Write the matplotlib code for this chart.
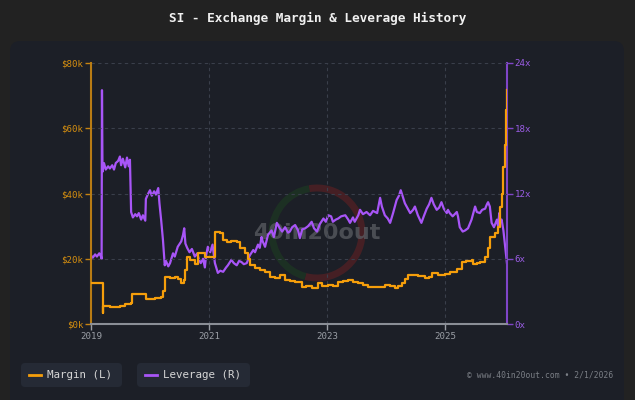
import matplotlib
matplotlib.use("Agg")
import matplotlib.pyplot as plt
from matplotlib.patches import FancyBboxPatch, Arc
from matplotlib.lines import Line2D

# ---------------- data ----------------
margin_dates = [2019.00, 2019.195, 2019.20, 2019.32, 2019.49, 2019.58, 2019.68, 2019.69, 2019.93,
                2020.08, 2020.19, 2020.22, 2020.25, 2020.34, 2020.42, 2020.47, 2020.53, 2020.58,
                2020.59, 2020.63, 2020.68, 2020.76, 2020.81, 2020.93, 2021.10, 2021.19, 2021.24,
                2021.31, 2021.38, 2021.47, 2021.53, 2021.61, 2021.66, 2021.69, 2021.78, 2021.86,
                2021.95, 2022.03, 2022.12, 2022.20, 2022.29, 2022.37, 2022.46, 2022.57, 2022.64,
                2022.74, 2022.85, 2022.92, 2023.02, 2023.10, 2023.19, 2023.27, 2023.36, 2023.44,
                2023.53, 2023.61, 2023.69, 2023.78, 2023.86, 2023.98, 2024.07, 2024.15, 2024.20,
                2024.27, 2024.32, 2024.37, 2024.46, 2024.54, 2024.66, 2024.73, 2024.78, 2024.88,
                2025.00, 2025.08, 2025.20, 2025.28, 2025.36, 2025.45, 2025.47, 2025.54, 2025.59,
                2025.68, 2025.73, 2025.77, 2025.85, 2025.90, 2025.93, 2025.96, 2025.99, 2026.02,
                2026.03, 2026.05]
margin_k = [12.5, 3.5, 5.5, 5.3, 5.5, 6.0, 6.5, 9.1, 7.6,
            7.9, 8.2, 10.2, 14.5, 14.0, 14.5, 13.8, 12.7, 13.5,
            16.5, 20.6, 19.5, 18.4, 21.8, 20.5, 28.3, 27.8, 25.7,
            25.0, 25.5, 25.2, 23.2, 21.7, 20.0, 18.1, 17.1, 16.6,
            16.0, 14.5, 14.2, 15.0, 13.5, 13.2, 13.0, 11.4, 11.6,
            10.9, 12.5, 11.8, 12.0, 11.8, 13.0, 13.3, 13.5, 13.0,
            12.5, 12.0, 11.4, 11.2, 11.4, 12.0, 11.5, 10.9, 11.5,
            12.5, 13.8, 15.0, 15.0, 14.7, 14.0, 14.5, 15.5, 15.0,
            15.2, 16.0, 16.8, 19.1, 19.3, 19.6, 18.4, 18.6, 19.1,
            20.6, 23.2, 26.8, 27.8, 29.8, 36.0, 40.0, 48.0, 55.0,
            65.6, 71.7]

lev_dates = [2019.00, 2019.03, 2019.07, 2019.10, 2019.14, 2019.17, 2019.18, 2019.186, 2019.195, 2019.22,
             2019.25, 2019.29, 2019.32, 2019.36, 2019.39, 2019.42, 2019.46, 2019.49, 2019.51, 2019.54,
             2019.58, 2019.61, 2019.64, 2019.66, 2019.68, 2019.71, 2019.75, 2019.78, 2019.81, 2019.85,
             2019.88, 2019.92, 2019.93, 2019.97, 2020.00, 2020.03, 2020.07, 2020.10, 2020.14, 2020.16,
             2020.19, 2020.22, 2020.25, 2020.27, 2020.31, 2020.34, 2020.39, 2020.42, 2020.47, 2020.53,
             2020.56, 2020.58, 2020.60, 2020.63, 2020.67, 2020.71, 2020.76, 2020.80, 2020.83, 2020.86,
             2020.90, 2020.93, 2020.95, 2020.98, 2021.02, 2021.06, 2021.10, 2021.15, 2021.19, 2021.24,
             2021.29, 2021.32, 2021.38, 2021.42, 2021.47, 2021.51, 2021.55, 2021.59, 2021.64, 2021.69,
             2021.75, 2021.78, 2021.83, 2021.86, 2021.89, 2021.91, 2021.95, 2022.00, 2022.06, 2022.10,
             2022.15, 2022.20, 2022.24, 2022.29, 2022.34, 2022.37, 2022.41, 2022.46, 2022.51, 2022.54,
             2022.58, 2022.63, 2022.68, 2022.74, 2022.78, 2022.83, 2022.88, 2022.94, 2022.98, 2023.02,
             2023.07, 2023.10, 2023.15, 2023.19, 2023.24, 2023.31, 2023.36, 2023.39, 2023.44, 2023.47,
             2023.53, 2023.56, 2023.61, 2023.67, 2023.73, 2023.78, 2023.85, 2023.90, 2023.93, 2023.98,
             2024.03, 2024.07, 2024.12, 2024.18, 2024.22, 2024.25, 2024.29, 2024.32, 2024.37, 2024.41,
             2024.46, 2024.49, 2024.54, 2024.60, 2024.64, 2024.69, 2024.73, 2024.77, 2024.81, 2024.86,
             2024.90, 2024.94, 2024.98, 2025.03, 2025.05, 2025.08, 2025.13, 2025.20, 2025.22, 2025.25,
             2025.30, 2025.34, 2025.39, 2025.42, 2025.45, 2025.47, 2025.51, 2025.54, 2025.59, 2025.63,
             2025.68, 2025.71, 2025.73, 2025.76, 2025.79, 2025.83, 2025.88, 2025.90, 2025.92, 2025.94,
             2025.96, 2025.99, 2026.02, 2026.03, 2026.05]
leverage_x = [6.3, 6.1, 6.4, 6.2, 6.5, 6.2, 6.0, 21.5, 14.0, 14.8,
              14.2, 14.5, 14.3, 14.6, 14.2, 14.8, 15.0, 15.4, 14.6, 15.2,
              14.4, 15.3, 14.5, 15.1, 10.3, 9.8, 10.1, 9.9, 10.2, 9.6,
              10.0, 9.5, 11.5, 12.0, 12.3, 11.8, 12.2, 11.9, 12.5, 11.1,
              9.5, 7.7, 5.4, 5.8, 5.3, 5.6, 6.5, 6.2, 7.1, 7.6,
              8.2, 8.8, 7.4, 7.0, 6.6, 6.9, 6.2, 6.5, 5.9, 5.6,
              6.0, 5.2, 6.3, 7.1, 6.6, 7.3, 5.6, 4.7, 4.9, 4.8,
              5.2, 5.4, 5.9, 5.6, 5.4, 5.8, 5.7, 5.5, 5.6, 6.3,
              6.8, 6.6, 7.3, 7.0, 8.0, 7.6, 7.1, 8.2, 8.6, 8.0,
              9.3, 8.8, 8.5, 8.9, 8.4, 8.5, 8.9, 9.1, 8.6, 7.9,
              8.7, 8.8, 9.0, 9.4, 8.8, 8.5, 9.2, 9.7, 9.4, 10.0,
              9.9, 9.4, 9.6, 9.7, 9.9, 10.0, 9.6, 9.3, 9.8, 9.4,
              10.0, 10.5, 10.1, 10.3, 10.0, 10.4, 10.2, 11.6, 10.8, 10.0,
              9.7, 9.3, 10.2, 11.4, 11.8, 12.3, 11.6, 11.1, 10.6, 10.2,
              10.5, 10.8, 10.0, 9.3, 9.9, 10.6, 11.0, 11.6, 11.0, 10.5,
              10.7, 11.2, 10.6, 10.2, 10.5, 10.2, 9.9, 10.3, 9.9, 8.9,
              8.5, 8.6, 8.8, 9.2, 9.6, 10.0, 10.8, 10.3, 10.2, 10.5,
              10.6, 11.0, 11.2, 10.8, 9.3, 8.9, 9.6, 9.0, 10.2, 9.4,
              9.6, 8.6, 7.1, 6.6, 5.6]

year_ticks = [2019, 2021, 2023, 2025]
year_labels = ["2019", "2021", "2023", "2025"]
margin_ticks = [0, 20, 40, 60, 80]
margin_labels = ["$0k", "$20k", "$40k", "$60k", "$80k"]
lev_ticks = [0, 6, 12, 18, 24]
lev_labels = ["0x", "6x", "12x", "18x", "24x"]

title = "SI - Exchange Margin & Leverage History"
legend_labels = ["Margin (L)", "Leverage (R)"]
credit = "\u00a9 www.40in20out.com \u2022 2/1/2026"

# ---------------- style ----------------
W, H = 635, 400
FIG_BG = "#222222"
CARD = "#1c1f27"
ORANGE = "#f59e0b"
PURPLE = "#a855f7"
MONO = ["DejaVu Sans Mono"]

fig = plt.figure(figsize=(W / 100, H / 100), dpi=100, facecolor=FIG_BG)

# background / decoration axes in pixel coordinates
bg = fig.add_axes([0, 0, 1, 1], zorder=0)
bg.set_xlim(0, W)
bg.set_ylim(H, 0)
bg.axis("off")
bg.add_patch(FancyBboxPatch((10, 41), 614, 380, boxstyle="round,pad=0,rounding_size=10",
                            facecolor=CARD, edgecolor="none"))
bg.text(W / 2, 18, title, ha="center", va="center", color="#f0f0f0",
        fontsize=9.2, fontweight="bold", family=MONO)

# watermark
bg.add_patch(Arc((317, 233), 90, 90, theta1=-100, theta2=105, color="#4a1f24", lw=5, alpha=0.9))
bg.add_patch(Arc((317, 233), 90, 90, theta1=105, theta2=260, color="#1c3323", lw=5, alpha=0.9))
bg.text(317, 233, "40in20out", ha="center", va="center", color="#5a5d63",
        fontsize=16, fontweight="bold", family=["DejaVu Sans"], alpha=0.75)

# legend boxes
for (x0, w, lab, col) in [(21, 101, legend_labels[0], ORANGE), (137, 113, legend_labels[1], PURPLE)]:
    bg.add_patch(FancyBboxPatch((x0, 363), w, 24, boxstyle="round,pad=0,rounding_size=4",
                                facecolor="#252a35", edgecolor="none"))
    bg.add_line(Line2D([x0 + 8, x0 + 19.5], [375, 375], color=col, lw=2))
    bg.text(x0 + 26, 375.5, lab, ha="left", va="center", color="#d6d6d6", fontsize=7.8, family=MONO)
bg.text(613, 375, credit, ha="right", va="center", color="#7b7f86", fontsize=5.8, family=MONO)

# main axes
ax = fig.add_axes([91 / W, 1 - 324 / H, 416 / W, 261 / H], zorder=1)
ax.set_facecolor("none")
ax.set_xlim(2019.0, 2019 + 416 / 59)
ax.set_ylim(0, 80)
ax.step(margin_dates, margin_k, where="post", color=ORANGE, lw=1.6, zorder=3)

ax.set_xticks(year_ticks)
ax.set_xticklabels(year_labels)
ax.set_yticks(margin_ticks)
ax.set_yticklabels(margin_labels)
ax.tick_params(axis="x", colors="#9a9ea5", labelsize=6.6, length=4, width=1, pad=1.5)
ax.tick_params(axis="y", colors="#c78412", labelcolor="#d48e10", labelsize=6.6, length=4, width=1, pad=1.5)
for lab in ax.get_xticklabels() + ax.get_yticklabels():
    lab.set_family(MONO)
ax.grid(True, color="#3a3f4b", ls=(0, (3, 3)), lw=0.8)
ax.set_axisbelow(True)
for s in ["top", "right"]:
    ax.spines[s].set_visible(False)
ax.spines["left"].set_color("#b97c14")
ax.spines["left"].set_linewidth(1.5)
ax.spines["bottom"].set_color("#8a8e96")
ax.spines["bottom"].set_linewidth(1.5)

ax2 = ax.twinx()
ax2.set_ylim(0, 24)
ax2.plot(lev_dates, leverage_x, color=PURPLE, lw=1.6, zorder=2)
ax2.set_yticks(lev_ticks)
ax2.set_yticklabels(lev_labels)
ax2.tick_params(axis="y", colors="#7f45c8", labelcolor="#9b5de5", labelsize=6.6, length=4, width=1, pad=1.5)
for lab in ax2.get_yticklabels():
    lab.set_family(MONO)
for s in ["top", "left", "bottom"]:
    ax2.spines[s].set_visible(False)
ax2.spines["right"].set_color("#7f45c8")
ax2.spines["right"].set_linewidth(1.5)
ax2.set_zorder(1)
ax.set_zorder(2)
ax.patch.set_visible(False)

fig.savefig("out.png", dpi=100, facecolor=FIG_BG)
